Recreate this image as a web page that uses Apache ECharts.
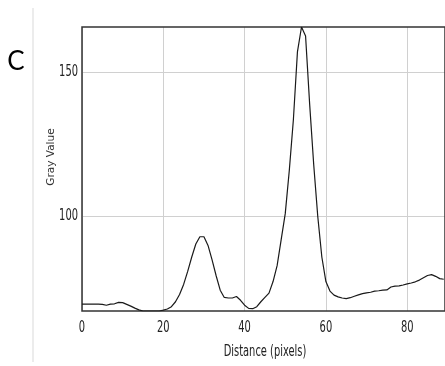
<!DOCTYPE html>
<html>
<head>
<meta charset="utf-8">
<script src="https://cdn.jsdelivr.net/npm/echarts@6/dist/echarts.min.js"></script>
<style>
html,body{margin:0;padding:0;background:#fff;}
#chart{width:445px;height:366px;}
</style>
</head>
<body>
<div id="chart"></div>
<script>
const panelLabel = 'C';
const xTitle = 'Distance (pixels)';
const yTitle = 'Gray Value';
const xTicks = [0, 20, 40, 60, 80];
const yTicks = [100, 150];
const distance = [];
for (let i = 0; i <= 89; i++) distance.push(i);
const grayValue = [
  69.7, 69.7, 69.7, 69.7, 69.7, 69.6, 69.3, 69.7, 69.8, 70.3,
  70.2, 69.6, 69.0, 68.3, 67.7, 67.3, 67.3, 67.3, 67.3, 67.3,
  67.6, 68.0, 68.8, 70.5, 73.0, 76.5, 81.0, 86.0, 90.5, 93.0,
  93.0, 90.0, 85.0, 79.5, 74.5, 72.0, 71.8, 71.8, 72.3, 71.0,
  69.3, 68.2, 68.1, 68.8, 70.5, 72.0, 73.5, 77.5, 83.0, 92.0,
  101.0, 116.0, 133.5, 157.0, 165.6, 162.5, 139.0, 118.0, 100.0, 86.0,
  77.5, 74.2, 72.8, 72.2, 71.8, 71.6, 71.9, 72.4, 72.9, 73.3,
  73.6, 73.8, 74.2, 74.3, 74.5, 74.6, 75.6, 75.9, 76.0, 76.3,
  76.7, 77.0, 77.4, 78.0, 78.8, 79.6, 79.9, 79.3, 78.5, 78.3
];
const xMin = 0, xMax = 89.3, yMin = 67.3, yMax = 165.6;

const chart = echarts.init(document.getElementById('chart'), null, {renderer: 'canvas'});
const option = {
  animation: false,
  backgroundColor: '#fff',
  grid: {left: 82, top: 27, width: 366, height: 284, show: true, borderColor: '#333', borderWidth: 1.5, backgroundColor: 'transparent', z: 3},
  xAxis: {
    type: 'value', min: xMin, max: xMax, interval: 20,
    axisLine: {show: false}, axisTick: {show: false}, axisLabel: {show: false},
    splitLine: {show: true, lineStyle: {color: '#d0d0d0', width: 1}}
  },
  yAxis: {
    type: 'value', min: yMin, max: yMax,
    axisLine: {show: false}, axisTick: {show: false}, axisLabel: {show: false},
    splitLine: {show: false}
  },
  series: [{
    type: 'line',
    data: distance.map((d, i) => [d, grayValue[i]]),
    showSymbol: false,
    smooth: false,
    lineStyle: {color: '#1a1a1a', width: 1.2},
    z: 5,
    markLine: {
      silent: true, symbol: 'none', label: {show: false},
      lineStyle: {color: '#d0d0d0', width: 1, type: 'solid'},
      data: yTicks.map(v => ({yAxis: v})),
      z: 1
    }
  }]
};
chart.setOption(option);

const graphics = [];
const sx = 0.66;
const labelFont = '15px "DejaVu Sans"';
xTicks.forEach(v => {
  const p = chart.convertToPixel({gridIndex: 0}, [v, yMin]);
  graphics.push({type: 'text', x: p[0], y: p[1] + 17, scaleX: sx,
    style: {text: String(v), font: labelFont, fill: '#222', align: 'center', verticalAlign: 'middle'}});
});
yTicks.forEach(v => {
  const p = chart.convertToPixel({gridIndex: 0}, [xMin, v]);
  graphics.push({type: 'text', x: p[0] - 4, y: p[1], scaleX: sx,
    style: {text: String(v), font: labelFont, fill: '#222', align: 'right', verticalAlign: 'middle'}});
});
const c0 = chart.convertToPixel({gridIndex: 0}, [xMin, yMin]);
graphics.push({type: 'text', x: 265, y: c0[1] + 41, scaleX: sx,
  style: {text: xTitle, font: labelFont, fill: '#222', align: 'center', verticalAlign: 'middle'}});
graphics.push({type: 'text', x: 51, y: 157, rotation: Math.PI / 2,
  style: {text: yTitle, font: '10.5px "DejaVu Sans"', fill: '#333', align: 'center', verticalAlign: 'middle'}});
graphics.push({type: 'text', x: 16, y: 62,
  style: {text: panelLabel, font: '26px Lato', fill: '#000', align: 'center', verticalAlign: 'middle'}});
graphics.push({type: 'line', shape: {x1: 33, y1: 8, x2: 33, y2: 362}, style: {stroke: '#ececec', lineWidth: 2}});
chart.setOption({graphic: graphics});
</script>
</body>
</html>
